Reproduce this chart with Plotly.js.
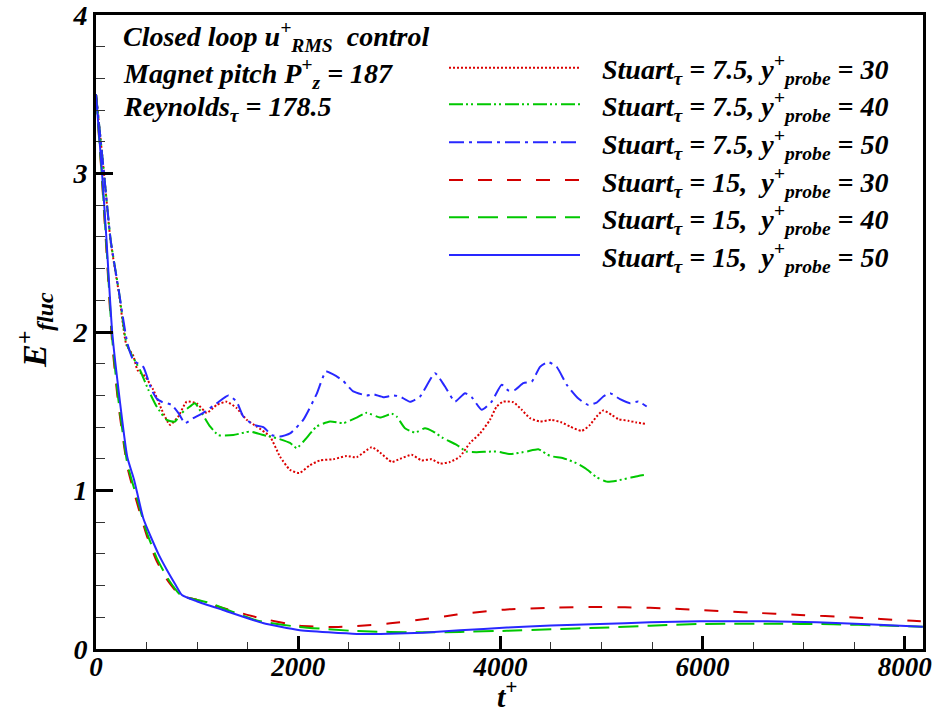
<!DOCTYPE html>
<html>
<head>
<meta charset="utf-8">
<script src="https://cdn.plot.ly/plotly-3.0.1.min.js"></script>
<style>html,body{margin:0;padding:0;background:#fff;}#chart{width:938px;height:716px;}</style>
</head>
<body>
<div id="chart"></div>
<script>
// ---- data ----
const labels = [
  "Stuart<sub>τ</sub> = 7.5, y<sup>+</sup><sub>probe</sub> = 30",
  "Stuart<sub>τ</sub> = 7.5, y<sup>+</sup><sub>probe</sub> = 40",
  "Stuart<sub>τ</sub> = 7.5, y<sup>+</sup><sub>probe</sub> = 50",
  "Stuart<sub>τ</sub> = 15,  y<sup>+</sup><sub>probe</sub> = 30",
  "Stuart<sub>τ</sub> = 15,  y<sup>+</sup><sub>probe</sub> = 40",
  "Stuart<sub>τ</sub> = 15,  y<sup>+</sup><sub>probe</sub> = 50"
];

const t_s75_y30 = [0,40,79,145,228,300,369,410,485,567,650,732,814,897,996,1095,1194,1293,1391,1490,1589,1721,1820,1919,2010,2117,2216,2347,2479,2578,2727,2809,2925,3007,3122,3221,3320,3403,3501,3600,3699,3798,3897,3963,4029,4128,4211,4293,4392,4507,4606,4688,4804,4886,4952,5018,5101,5167,5265,5348,5447];
const e_s75_y30 = [3.5,3.25,3.0,2.57,2.24,1.92,1.85,1.76,1.72,1.635,1.51,1.414,1.467,1.56,1.55,1.49,1.54,1.56,1.52,1.446,1.404,1.34,1.214,1.13,1.11,1.16,1.19,1.197,1.218,1.21,1.273,1.24,1.18,1.20,1.225,1.19,1.197,1.17,1.18,1.214,1.30,1.36,1.446,1.53,1.561,1.557,1.509,1.456,1.435,1.446,1.429,1.404,1.376,1.414,1.467,1.505,1.477,1.45,1.44,1.429,1.42];

const t_s75_y40 = [0,40,79,145,228,300,350,435,518,600,699,781,848,930,979,1045,1128,1210,1358,1523,1655,1787,1919,1985,2067,2183,2315,2446,2578,2677,2809,2925,2974,3056,3155,3254,3336,3435,3567,3666,3765,3963,4095,4260,4375,4491,4622,4754,4853,4952,5051,5150,5265,5364,5447];
const e_s75_y40 = [3.5,3.25,3.0,2.58,2.25,1.93,1.86,1.76,1.635,1.53,1.446,1.435,1.488,1.53,1.55,1.49,1.404,1.35,1.35,1.372,1.35,1.33,1.30,1.267,1.32,1.404,1.435,1.425,1.46,1.49,1.46,1.484,1.467,1.393,1.366,1.393,1.372,1.33,1.288,1.246,1.242,1.246,1.23,1.246,1.26,1.218,1.204,1.172,1.134,1.084,1.056,1.062,1.078,1.092,1.10];

const t_s75_y50 = [0,40,79,145,228,310,369,420,468,550,600,650,749,814,880,962,1061,1194,1309,1391,1457,1556,1655,1738,1820,1919,2050,2183,2275,2380,2446,2545,2677,2743,2842,2941,3007,3106,3205,3353,3452,3551,3650,3716,3815,3914,4013,4079,4144,4227,4310,4392,4474,4557,4656,4771,4870,4952,5018,5084,5183,5282,5364,5447];
const e_s75_y50 = [3.5,3.25,3.0,2.58,2.25,1.93,1.82,1.8,1.78,1.635,1.58,1.56,1.54,1.49,1.425,1.456,1.49,1.55,1.60,1.56,1.467,1.414,1.40,1.35,1.34,1.36,1.446,1.61,1.75,1.72,1.69,1.625,1.60,1.607,1.589,1.60,1.593,1.56,1.593,1.74,1.656,1.561,1.614,1.589,1.509,1.561,1.667,1.631,1.635,1.677,1.687,1.78,1.81,1.78,1.667,1.58,1.54,1.555,1.593,1.614,1.576,1.551,1.561,1.53];

const t_s15_y30 = [0,60,100,160,220,310,402,500,600,700,790,840,1000,1195,1590,2000,2315,2580,2910,3235,3570,4065,4490,4985,5480,5974,6469,6963,7458,8080,8178];
const e_s15_y30 = [3.5,2.95,2.55,1.93,1.55,1.15,0.93,0.72,0.555,0.44,0.365,0.335,0.31,0.27,0.20,0.147,0.139,0.145,0.162,0.187,0.217,0.25,0.26,0.265,0.26,0.246,0.23,0.215,0.20,0.178,0.175];

const t_s15_y40 = [0,60,100,160,220,310,410,500,600,700,770,845,1100,1590,2000,2580,3235,3600,4065,4500,4985,5480,5974,6637,7290,7800,8178];
const e_s15_y40 = [3.5,2.97,2.58,1.96,1.58,1.17,0.94,0.74,0.575,0.455,0.39,0.335,0.295,0.18,0.14,0.113,0.105,0.108,0.115,0.125,0.134,0.147,0.158,0.16,0.156,0.148,0.14];

const t_s15_y50 = [0,30,60,100,160,220,310,376,470,617,700,782,850,1000,1256,1650,2000,2300,2580,2900,3235,3600,4065,4500,4985,5480,5974,6637,7130,7626,8178];
const e_s15_y50 = [3.5,3.25,3.0,2.62,2.0,1.65,1.21,1.07,0.82,0.6,0.5,0.41,0.34,0.30,0.246,0.164,0.12,0.105,0.095,0.097,0.103,0.118,0.135,0.148,0.158,0.168,0.175,0.175,0.168,0.156,0.14];

const xTicks = [0,2000,4000,6000,8000];
const yTicks = [0,1,2,3,4];
const noteLines = [
  "Closed loop u<sup>+</sup><sub>RMS</sub>  control",
  "Magnet pitch P<sup>+</sup><sub>z</sub> = 187",
  "Reynolds<sub>τ</sub> = 178.5"
];
const xTitle = "t<sup>+</sup>";
const yTitle = "E<sup>+</sup><sub>fluc</sub>";

// ---- styles ----
const styles = [
  {color:'rgb(220,0,0)', dash:'2px,2px', width:2},
  {color:'rgb(0,200,0)', dash:'14px,3px,2px,3px,2px,4px', width:2},
  {color:'rgb(40,40,255)', dash:'15px,5px,3px,5px', width:2},
  {color:'rgb(210,0,0)', dash:'14px,15px', width:2},
  {color:'rgb(0,200,0)', dash:'20px,9px', width:2},
  {color:'rgb(40,40,255)', dash:'solid', width:2}
];
const series = [
  [t_s75_y30, e_s75_y30],[t_s75_y40, e_s75_y40],[t_s75_y50, e_s75_y50],
  [t_s15_y30, e_s15_y30],[t_s15_y40, e_s15_y40],[t_s15_y50, e_s15_y50]
];

const FONT = 'Liberation Serif, Times New Roman, serif';
const BI = (size)=>({family:FONT, size:size, color:'#000', weight:'bold', style:'italic'});
const traces = series.map((s,i)=>({
  x:s[0], y:s[1], type:'scatter', mode:'lines', name:labels[i], showlegend:false,
  line:{color:styles[i].color, dash:styles[i].dash, width:styles[i].width, shape:'spline', smoothing:0.5},
  hoverinfo:'skip'
}));

// plot area in pixels
const L=96, R=15, T=15, B=67, W=938, H=716;
const pw = W-L-R, ph = H-T-B;
const px2x = p => (p-L)/pw;
const py2y = p => (H-B-p)/ph;

const legRowsPy = [67.7,104.3,142.3,180,217.3,255];
const shapes = [];
const annotations = [];
legRowsPy.forEach((py,i)=>{
  shapes.push({type:'line', xref:'paper', yref:'paper', x0:px2x(449), x1:px2x(580), y0:py2y(py), y1:py2y(py),
    line:{color:styles[i].color, dash:styles[i].dash, width:styles[i].width}});
  annotations.push({xref:'paper', yref:'paper', x:px2x(600), y:py2y(py+2), xanchor:'left', yanchor:'middle',
    text:labels[i], showarrow:false, font:BI(28)});
});
const notePy = [34,71,107];
noteLines.forEach((txt,i)=>{
  annotations.push({xref:'paper', yref:'paper', x:px2x(121), y:py2y(notePy[i]+2), xanchor:'left', yanchor:'middle',
    text:txt, showarrow:false, font:BI(28)});
});
annotations.push({xref:'paper', yref:'paper', x:px2x(507), y:py2y(715), xanchor:'center', yanchor:'bottom',
  text:xTitle, showarrow:false, font:BI(30)});
annotations.push({xref:'paper', yref:'paper', x:px2x(34), y:py2y(330), xanchor:'center', yanchor:'middle',
  text:yTitle, showarrow:false, textangle:-90, font:BI(34)});

const layout = {
  width:W, height:H, margin:{l:L, r:R, t:T, b:B, pad:0},
  paper_bgcolor:'#fff', plot_bgcolor:'#fff', showlegend:false,
  font:{family:FONT, color:'#000'},
  xaxis:{
    range:[0,8180], tickvals:xTicks, ticktext:xTicks.map(String), ticks:'inside', ticklen:13, tickwidth:3, tickcolor:'#000',
    showline:true, linewidth:3, linecolor:'#000', mirror:true, showgrid:false, zeroline:false,
    tickfont:BI(27), ticklabeloverflow:'allow', automargin:false, ticklabelstandoff:-8,
    minor:{dtick:500, ticks:'inside', ticklen:7, tickwidth:1, tickcolor:'#333', showgrid:false}
  },
  yaxis:{
    range:[0,4], tickvals:yTicks, ticktext:yTicks.map(String), ticks:'inside', ticklen:17, tickwidth:3, tickcolor:'#000',
    showline:true, linewidth:3, linecolor:'#000', mirror:true, showgrid:false, zeroline:false,
    tickfont:BI(28), ticklabeloverflow:'allow', automargin:false,
    minor:{dtick:0.2, ticks:'inside', ticklen:9, tickwidth:1, tickcolor:'#333', showgrid:false}
  },
  shapes:shapes, annotations:annotations
};

Plotly.newPlot('chart', traces, layout, {staticPlot:true, displayModeBar:false});
</script>
</body>
</html>
